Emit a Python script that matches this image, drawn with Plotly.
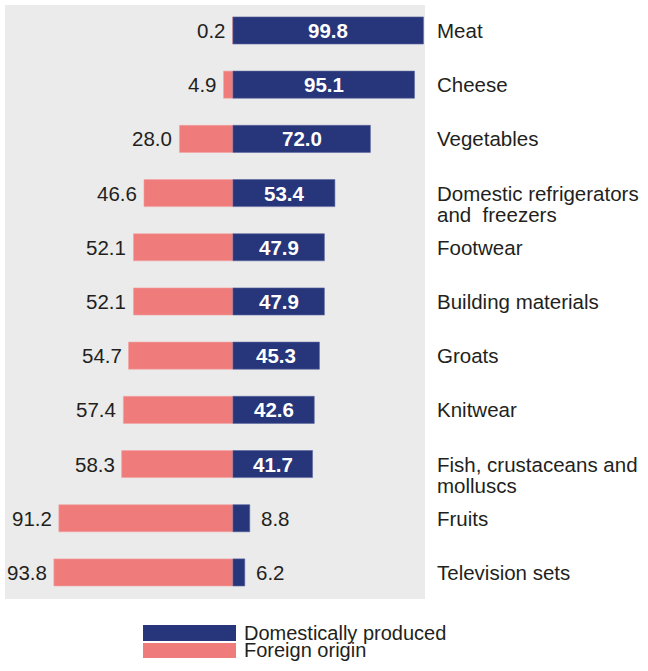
import plotly.graph_objects as go

categories = ["Meat", "Cheese", "Vegetables", "Domestic refrigerators<br>and\u00a0 freezers",
              "Footwear", "Building materials", "Groats", "Knitwear",
              "Fish, crustaceans and<br>molluscs", "Fruits", "Television sets"]
domestic = [99.8, 95.1, 72.0, 53.4, 47.9, 47.9, 45.3, 42.6, 41.7, 8.8, 6.2]
foreign = [0.2, 4.9, 28.0, 46.6, 52.1, 52.1, 54.7, 57.4, 58.3, 91.2, 93.8]

NAVY = "#27357A"
SALMON = "#F07B7B"
TXT = "#231F20"
FONT = "Liberation Sans, Arial, sans-serif"
FS = 20.5

idx = list(range(len(categories)))

fig = go.Figure()
fig.add_trace(go.Bar(y=idx, x=[-v for v in foreign], orientation="h", base=0,
                     marker=dict(color=SALMON, line=dict(color="#F4A3A3", width=0.6)),
                     width=0.5, name="Foreign origin", showlegend=False, hoverinfo="skip"))
fig.add_trace(go.Bar(y=idx, x=domestic, orientation="h", base=0,
                     marker=dict(color=NAVY, line=dict(color="#5A66A0", width=0.6)),
                     width=0.5, name="Domestically produced", showlegend=False, hoverinfo="skip"))

ann = []
for i, (c, d, f) in enumerate(zip(categories, domestic, foreign)):
    ann.append(dict(x=-f, y=i, xref="x", yref="y", text=f"{f:.1f}", showarrow=False,
                    xanchor="right", xshift=-5, font=dict(size=FS, color=TXT, family=FONT)))
    if d > 20:
        ann.append(dict(x=d / 2, y=i, xref="x", yref="y", text=f"<b>{d:.1f}</b>", showarrow=False,
                        xanchor="center", font=dict(size=FS, color="white", family=FONT)))
    else:
        ann.append(dict(x=d, y=i, xref="x", yref="y", text=f"{d:.1f}", showarrow=False,
                        xanchor="left", xshift=9, font=dict(size=FS, color=TXT, family=FONT)))
    for k, line in enumerate(c.split("<br>")):
        ann.append(dict(x=1, y=i, xref="paper", yref="y", text=line, showarrow=False,
                        xanchor="left", align="left", xshift=10, yshift=-21 * k,
                        font=dict(size=FS, color=TXT, family=FONT)))

# legend
ann.append(dict(x=0.5643, y=-0.0572, xref="paper", yref="paper", text="Domestically produced",
                showarrow=False, xanchor="left", yanchor="middle",
                font=dict(size=20, color=TXT, family=FONT)))
ann.append(dict(x=0.5643, y=-0.0867, xref="paper", yref="paper", text="Foreign origin",
                showarrow=False, xanchor="left", yanchor="middle",
                font=dict(size=20, color=TXT, family=FONT)))
shapes = [
    dict(type="rect", xref="paper", yref="paper", x0=0.3286, x1=0.55, y0=-0.0438, y1=-0.0707,
         fillcolor=NAVY, line=dict(width=0)),
    dict(type="rect", xref="paper", yref="paper", x0=0.3286, x1=0.55, y0=-0.0741, y1=-0.0993,
         fillcolor=SALMON, line=dict(width=0)),
]

fig.update_layout(
    width=648, height=671,
    margin=dict(l=5, r=223, t=5, b=72),
    paper_bgcolor="white", plot_bgcolor="#EBEBEB",
    barmode="overlay",
    xaxis=dict(range=[-119.4, 100.6], visible=False, fixedrange=True),
    yaxis=dict(range=[10.49, -0.47], visible=False, fixedrange=True),
    annotations=ann, shapes=shapes, showlegend=False,
    font=dict(family=FONT, color=TXT),
)

fig.write_html("out.html", config={"displayModeBar": False},
               post_script="document.body.style.margin='0px';")
